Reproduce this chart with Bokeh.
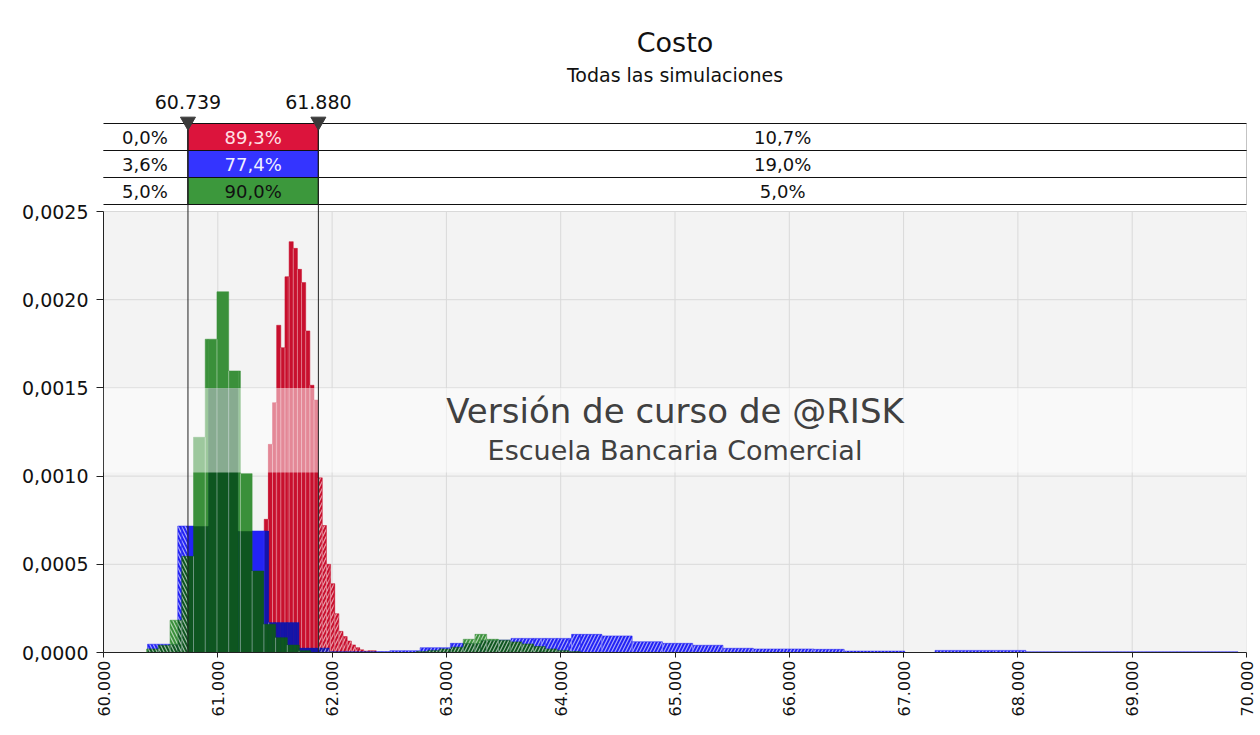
import math
import numpy as np
from bokeh.plotting import figure
from bokeh.models import Range1d, ColumnDataSource, FixedTicker, BoxAnnotation, Label
from bokeh.core.properties import value
from bokeh.embed import file_html
from bokeh.resources import INLINE

# ---------------- data ----------------
title_text = "Costo"
subtitle_text = "Todas las simulaciones"
watermark_lines = ["Versión de curso de @RISK", "Escuela Bancaria Comercial"]

x_min, x_max = 60000, 70000
x_ticks = [60000, 61000, 62000, 63000, 64000, 65000, 66000, 67000, 68000, 69000, 70000]
x_tick_labels = ["60.000", "61.000", "62.000", "63.000", "64.000", "65.000",
                 "66.000", "67.000", "68.000", "69.000", "70.000"]
y_ticks = [0.0, 0.0005, 0.0010, 0.0015, 0.0020, 0.0025]
y_tick_labels = ["0,0000", "0,0005", "0,0010", "0,0015", "0,0020", "0,0025"]

marker_values = [60739, 61880]
marker_labels = ["60.739", "61.880"]

stats_left = ["0,0%", "3,6%", "5,0%"]
stats_mid = ["89,3%", "77,4%", "90,0%"]
stats_right = ["10,7%", "19,0%", "5,0%"]

# red series (narrow bins)
red_bin_start = 61406
red_bin_width = 36.3
red_density = [0.000755, 0.00118, 0.001416, 0.001855, 0.001728, 0.00213, 0.002329,
               0.002291, 0.002172, 0.002097, 0.001823, 0.001515, 0.001431, 0.00099,
               0.00072, 0.0005, 0.00039, 0.00022, 0.00012, 0.00009, 0.000065,
               0.000043, 0.000027, 0.000015, 0.000008, 0.00001, 0.00001]

# blue series (wide bins)
blue_bin_start = 60385
blue_bin_width = 265
blue_density = [0.000047, 0.000717, 0.0015, 0.000689, 0.00017, 0.000025, 0.000005,
                0.000005, 0.00001, 0.000027, 0.000052, 0.00007, 0.00008, 0.00008,
                0.000103, 0.000094, 0.000061, 0.000052, 0.000041, 0.000024, 0.00002,
                0.00002, 0.000018, 0.000008, 0.000008, 0.0, 0.000012, 0.000012,
                0.000012, 0.000004, 0.000004, 0.000004, 0.000004, 0.000004, 0.000004,
                0.000004]

# green series (medium bins)
green_bin_start = 60377
green_bin_width = 102.6
green_density = [0.00002, 0.000041, 0.000183, 0.000545, 0.00122, 0.001776, 0.002045,
                 0.001596, 0.001014, 0.000462, 0.00016, 0.000084, 0.000042, 0.00001,
                 0.0, 0.0, 0.0, 0.0, 0.0, 0.0, 0.0, 0.0, 0.0, 0.000005,
                 0.000012, 0.00002, 0.00003, 0.000075, 0.000103, 0.000075, 0.00007,
                 0.00006, 0.000048, 0.000034, 0.00002, 0.000012, 0.000005]

# ---------------- styles ----------------
RED = "#C8102E"
BLUE = "#2323F5"
DARK_BLUE = "#1515A8"
GREEN = "#3A903A"
DARK_GREEN = "#0E5620"
CELL_COLORS = ["#DC143C", "#3434FF", "#3C983C"]
MID_TEXT = ["#FFE0E6", "#F0F0FF", "#111111"]
PLOT_BG = "#f3f3f3"
GRID = "#d9d9d9"
FONT = "DejaVu Sans"

W, H = 1260, 735
B_LEFT, B_RIGHT, B_BOTTOM = 103, 14, 83
FRAME_W = W - B_LEFT - B_RIGHT
FRAME_H = H - B_BOTTOM
TOP_TICK_PX = 211          # canvas y of the 0.0025 tick
Y_TOP = y_ticks[-1]
y_end = Y_TOP * FRAME_H / (FRAME_H - TOP_TICK_PX)


def cy(canvas_y):
    return (FRAME_H - canvas_y) / (FRAME_H - TOP_TICK_PX) * Y_TOP


def dxp(px):
    return px * (x_max - x_min) / FRAME_W


p = figure(width=W, height=H, x_range=Range1d(x_min, x_max), y_range=Range1d(0, y_end),
           output_backend="svg", toolbar_location=None,
           min_border_left=B_LEFT, min_border_right=B_RIGHT, min_border_top=0,
           min_border_bottom=B_BOTTOM, background_fill_color="white",
           border_fill_color="white", outline_line_color=None)

# axes
p.xaxis.ticker = FixedTicker(ticks=x_ticks)
p.xaxis.major_label_overrides = dict(zip(x_ticks, x_tick_labels))
p.yaxis.ticker = FixedTicker(ticks=y_ticks)
p.yaxis.major_label_overrides = dict(zip(y_ticks, y_tick_labels))
p.yaxis.bounds = (0, Y_TOP)
p.xaxis.major_label_orientation = math.pi / 2
for ax in (p.xaxis, p.yaxis):
    ax.axis_line_color = "#222222"
    ax.major_tick_line_color = "#222222"
    ax.minor_tick_line_color = None
    ax.major_tick_in = 0
    ax.major_label_text_font = FONT
    ax.major_label_text_color = "#111111"
p.yaxis.major_label_text_font_size = "19px"
p.xaxis.major_label_text_font_size = "16px"
p.xaxis.major_tick_out = 5
p.yaxis.major_tick_out = 7
p.xaxis.major_label_standoff = 3
p.yaxis.major_label_standoff = 8
p.xgrid.visible = False
p.ygrid.visible = False

# plot-area background and grid, limited to the data area
p.quad(left=[x_min], right=[x_max], bottom=[0], top=[Y_TOP], fill_color=PLOT_BG,
       line_color=None, level="underlay")
p.segment(x0=x_ticks, y0=[0] * len(x_ticks), x1=x_ticks, y1=[Y_TOP] * len(x_ticks),
          line_color=GRID, line_width=1, level="underlay")
p.segment(x0=[x_min] * len(y_ticks), y0=y_ticks, x1=[x_max] * len(y_ticks), y1=y_ticks,
          line_color=GRID, line_width=1, level="underlay")

# ---------------- histograms ----------------
def bin_edges(start, width, dens):
    return start + width * np.arange(len(dens) + 1)


def step_at(start, width, dens, xs):
    xs = np.asarray(xs, dtype=float)
    idx = np.floor((xs - start) / width).astype(int)
    out = np.zeros_like(xs)
    ok = (idx >= 0) & (idx < len(dens))
    out[ok] = np.asarray(dens)[idx[ok]]
    return out


series = [(red_bin_start, red_bin_width, red_density),
          (blue_bin_start, blue_bin_width, blue_density),
          (green_bin_start, green_bin_width, green_density)]

all_edges = np.unique(np.concatenate([bin_edges(*s) for s in series] + [np.array(marker_values, float)]))
seg_l, seg_r = all_edges[:-1], all_edges[1:]
mid = (seg_l + seg_r) / 2
r_h = step_at(*series[0], mid)
b_h = step_at(*series[1], mid)
g_h = step_at(*series[2], mid)
lo, hi = marker_values
hatch = np.where(mid < lo, "\\", np.where(mid > hi, "/", " "))

L, R, BOT, TOP, COL, HAT = [], [], [], [], [], []


def add(bottom, top, color):
    for i in np.nonzero(top > bottom)[0]:
        L.append(seg_l[i]); R.append(seg_r[i])
        BOT.append(bottom[i]); TOP.append(top[i])
        COL.append(color); HAT.append(hatch[i])


zero = np.zeros_like(mid)
# red (back)
add(zero, r_h, RED)
# blue (middle)
b_dark_top = np.minimum(b_h, r_h)
add(zero, b_dark_top, DARK_BLUE)
add(b_dark_top, b_h, BLUE)
# green (front)
behind = np.maximum(r_h, b_h)
g_dark_top = np.minimum(g_h, behind)
add(zero, g_dark_top, DARK_GREEN)
add(g_dark_top, g_h, GREEN)

src = ColumnDataSource(dict(left=L, right=R, bottom=BOT, top=TOP, color=COL, hatch=HAT))
p.quad(left="left", right="right", bottom="bottom", top="top", source=src,
       fill_color="color", line_color="color", line_width=0.5,
       hatch_pattern="hatch", hatch_color="white", hatch_alpha=0.6,
       hatch_scale=7, hatch_weight=1.2)

# light separators between bins
sx, sy0, sy1 = [], [], []
for k, (start, width, dens) in enumerate(series):
    e = bin_edges(start, width, dens)[1:-1]
    d = np.asarray(dens)
    top = np.minimum(d[:-1], d[1:])
    front = np.zeros_like(e)
    for j in range(k + 1, 3):
        eps = 1e-6
        front = np.maximum(front, np.maximum(step_at(*series[j], e - eps), step_at(*series[j], e + eps)))
    for xi, b0, t0 in zip(e, front, top):
        if t0 > b0:
            sx.append(xi); sy0.append(b0); sy1.append(t0)
p.segment(x0=sx, y0=sy0, x1=sx, y1=sy1, line_color="white", line_alpha=0.4, line_width=1)

# watermark band and text
p.add_layout(BoxAnnotation(bottom=cy(472), top=0.0015, fill_color="white", fill_alpha=0.5,
                           line_color=None))
p.add_layout(Label(x=(x_min + x_max) / 2, y=cy(410), text=watermark_lines[0],
                   text_font=FONT, text_font_size="34px", text_color="#404040",
                   text_align="center", text_baseline="middle"))
p.add_layout(Label(x=(x_min + x_max) / 2, y=cy(450), text=watermark_lines[1],
                   text_font=FONT, text_font_size="27px", text_color="#404040",
                   text_align="center", text_baseline="middle"))

# ---------------- header area (above the plot) ----------------
p.text(x=[(x_min + x_max) / 2], y=[cy(42)], text=[title_text], text_font=value(FONT),
       text_font_size="27px", text_color="#111111", text_align="center", text_baseline="middle")
p.text(x=[(x_min + x_max) / 2], y=[cy(74)], text=[subtitle_text], text_font=value(FONT),
       text_font_size="19px", text_color="#111111", text_align="center", text_baseline="middle")

row_tops = [123, 150, 177]
row_h = 27
xl, xr = x_min - dxp(1.5), x_max + dxp(0.5)
for i in range(3):
    t, b = cy(row_tops[i]), cy(row_tops[i] + row_h)
    p.quad(left=[xl, lo, hi], right=[lo, hi, xr], bottom=[b] * 3, top=[t] * 3,
           fill_color=["white", CELL_COLORS[i], "white"], line_color="#111111", line_width=1)
    ym = cy(row_tops[i] + row_h / 2 + 0.5)
    p.text(x=[(xl + lo) / 2, (lo + hi) / 2, (hi + xr) / 2], y=[ym] * 3,
           text=[stats_left[i], stats_mid[i], stats_right[i]],
           text_color=["#111111", MID_TEXT[i], "#111111"],
           text_font=value(FONT), text_font_size="18px", text_align="center",
           text_baseline="middle")

# marker lines, triangles and labels
p.segment(x0=marker_values, y0=[cy(128)] * 2, x1=marker_values, y1=[0, 0],
          line_color="#222222", line_width=1, level="overlay")
p.scatter(x=marker_values, y=[cy(121)] * 2, marker="inverted_triangle", size=15,
          fill_color="#3a3a3a", line_color="#3a3a3a", level="overlay")
p.text(x=marker_values, y=[cy(101)] * 2, text=marker_labels, text_font=value(FONT),
       text_font_size="19px", text_color="#111111", text_align="center", text_baseline="middle")

open("out.html", "w").write(file_html(p, INLINE))
